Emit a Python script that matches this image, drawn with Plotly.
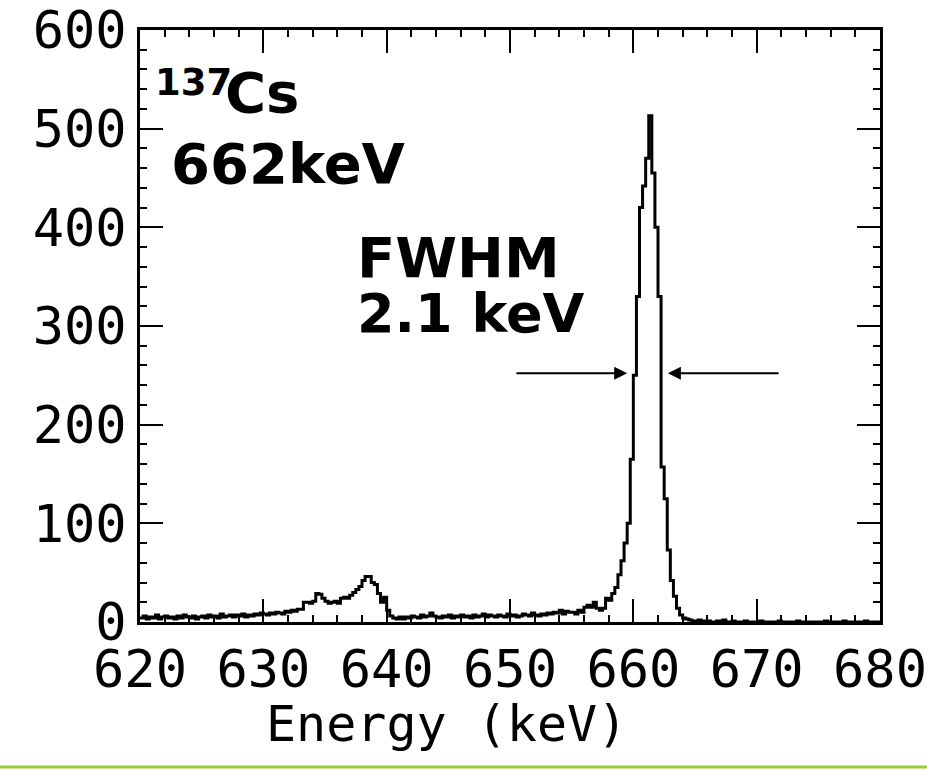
import numpy as np
import plotly.graph_objects as go

# ---- data ----
e_start = 620.0          # keV, first bin edge
bin_width = 0.25         # keV
counts = [
    4, 6, 3, 5, 4, 7, 3, 5, 6, 4,
    5, 3, 6, 4, 7, 5, 4, 6, 3, 5,
    6, 4, 7, 5, 6, 4, 8, 5, 6, 7,
    5, 7, 6, 8, 5, 7, 6, 8, 7, 9,
    8, 7, 9, 8, 10, 9, 8, 11, 10, 12,
    11, 13, 13, 20, 20, 19, 21, 29, 28, 24,
    21, 19, 20, 21, 19, 24, 25, 24, 27, 30,
    33, 36, 42, 46, 46, 40, 38, 29, 20, 25,
    12, 6, 4, 3, 5, 3, 5, 4, 6, 5,
    4, 7, 5, 6, 9, 6, 5, 4, 6, 5,
    7, 4, 6, 5, 7, 5, 6, 4, 7, 5,
    6, 8, 5, 7, 6, 5, 7, 6, 5, 8,
    6, 7, 5, 6, 8, 7, 6, 9, 7, 6,
    8, 7, 9, 8, 10, 9, 12, 8, 11, 10,
    10, 8, 12, 10, 15, 17, 15, 20, 14, 12,
    14, 24, 22, 29, 35, 48, 62, 80, 100, 165,
    250, 330, 420, 442, 470, 513, 455, 400, 330, 157,
    125, 73, 42, 26, 14, 7, 4, 3, 2, 1,
    1, 2, 1, 0, 1, 0, 0, 1, 0, 2,
    0, 0, 1, 0, 0, 0, 1, 0, 0, 0,
    0, 1, 0, 0, 0, 0, 0, 1, 0, 0,
    0, 0, 0, 1, 0, 0, 0, 0, 0, 0,
    0, 0, 1, 0, 0, 0, 0, 0, 1, 0,
    0, 0, 0, 0, 0, 1, 0, 0, 0, 0,
]
x_ticks = [620, 630, 640, 650, 660, 670, 680]
y_ticks = [0, 100, 200, 300, 400, 500, 600]
x_title = "Energy (keV)"
fwhm_level = 252             # counts, height of the FWHM arrows
fwhm_left = (650.4, 659.5)   # arrow tail, head (keV)
fwhm_right = (671.9, 662.8)

edges = e_start + bin_width * np.arange(len(counts) + 1)
yvals = list(counts) + [counts[-1]]

# plot-area geometry in pixels
W, H = 927, 770
L, R, T, B = 140, 47, 30, 148
PW, PH = W - L - R, H - T - B


def px(x):
    return (x - L) / PW


def py(y):
    return (H - B - y) / PH


fig = go.Figure()
fig.add_trace(go.Scatter(
    x=edges, y=yvals, mode="lines", line=dict(shape="hv", color="black", width=3),
    hoverinfo="skip", showlegend=False,
))

tick_font = dict(family="DejaVu Sans Mono", size=52, color="black")
common = dict(
    ticks="inside", ticklen=23, tickwidth=2, tickcolor="black",
    showline=True, linewidth=3, linecolor="black", mirror="allticks",
    showgrid=False, zeroline=False, tickfont=tick_font, automargin=False,
)
fig.update_xaxes(
    range=[620, 680], tickvals=x_ticks, ticktext=[str(v) for v in x_ticks],
    minor=dict(dtick=2, ticks="inside", ticklen=7, tickwidth=2, tickcolor="black"),
    **common,
)
fig.update_yaxes(
    range=[0, 600], tickvals=y_ticks, ticktext=[str(v) for v in y_ticks],
    minor=dict(dtick=20, ticks="inside", ticklen=7, tickwidth=2, tickcolor="black"),
    **common,
)

bold = lambda s: dict(family="DejaVu Sans", size=s, color="black", weight="bold")
annotations = [
    dict(x=px(153), y=py(82), text="137", font=bold(37)),
    dict(x=px(223), y=py(92.5), text="Cs", font=bold(56)),
    dict(x=px(169), y=py(163), text="662keV", font=bold(56)),
    dict(x=px(355), y=py(257), text="FWHM", font=bold(56)),
    dict(x=px(355), y=py(313), text="2.1 keV", font=bold(54)),
]
for a in annotations:
    a.update(xref="paper", yref="paper", showarrow=False,
             xanchor="left", yanchor="middle")
annotations += [
    dict(x=fwhm_left[1], y=fwhm_level, ax=fwhm_left[0], ay=fwhm_level,
         xref="x", yref="y", axref="x", ayref="y", text="", showarrow=True,
         arrowhead=2, arrowsize=1.3, arrowwidth=2, arrowcolor="black", standoff=0),
    dict(x=fwhm_right[1], y=fwhm_level, ax=fwhm_right[0], ay=fwhm_level,
         xref="x", yref="y", axref="x", ayref="y", text="", showarrow=True,
         arrowhead=2, arrowsize=1.3, arrowwidth=2, arrowcolor="black", standoff=0),
    dict(x=px(446), y=py(724), xref="paper", yref="paper",
         text=x_title, showarrow=False, xanchor="center", yanchor="middle",
         font=dict(family="DejaVu Sans Mono", size=50, color="black")),
]

fig.update_layout(
    width=W, height=H,
    margin=dict(l=L, r=R, t=T, b=B, autoexpand=False),
    paper_bgcolor="white", plot_bgcolor="white",
    annotations=annotations,
    shapes=[dict(type="line", xref="paper", yref="paper",
                 x0=px(0), x1=px(W), y0=py(767), y1=py(767),
                 line=dict(color="#9acd32", width=3))],
)

fig.write_html("out.html")
